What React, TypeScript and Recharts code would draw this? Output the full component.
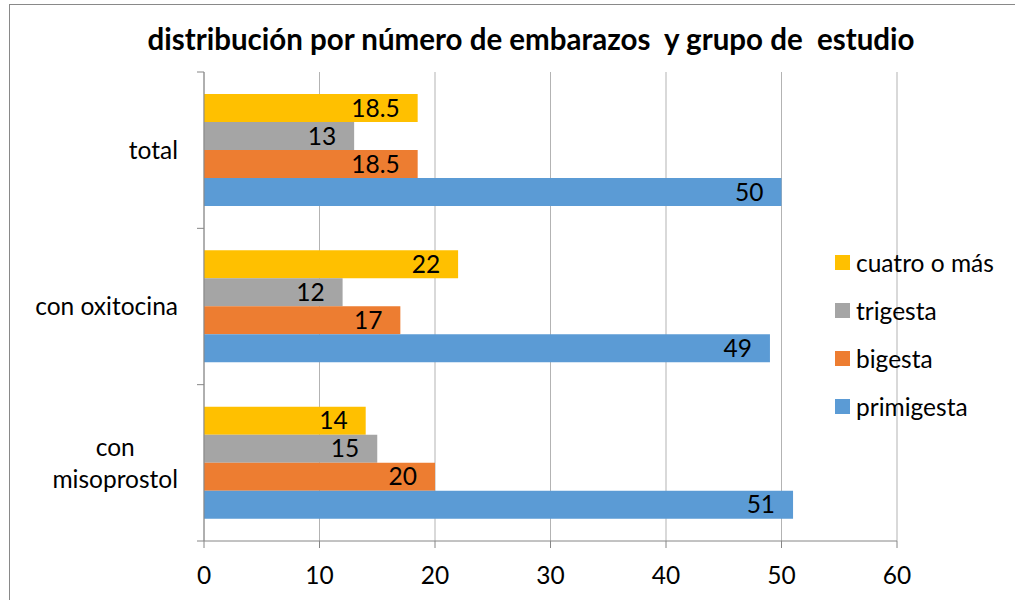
import React from 'react';
import { BarChart, Bar, XAxis, YAxis, CartesianGrid, Legend, LabelList } from 'recharts';

const categories = ['total', 'con oxitocina', 'con misoprostol'];
const primigesta = [50, 49, 51];
const bigesta = [18.5, 17, 20];
const trigesta = [13, 12, 15];
const cuatroOMas = [18.5, 22, 14];
const xTicks = [0, 10, 20, 30, 40, 50, 60];

const series = [
  { key: 'cuatro', name: 'cuatro o más', color: '#FFC000', values: cuatroOMas },
  { key: 'trigesta', name: 'trigesta', color: '#A5A5A5', values: trigesta },
  { key: 'bigesta', name: 'bigesta', color: '#ED7D31', values: bigesta },
  { key: 'primigesta', name: 'primigesta', color: '#5B9BD5', values: primigesta },
];

const data = categories.map((name, i) => {
  const row: any = { name };
  series.forEach((s) => (row[s.key] = s.values[i]));
  return row;
});

const W = 1015;
const H = 600;
const MARGIN = { top: 72, right: 118, bottom: 0, left: 0 };
const Y_AXIS_W = 204;
const X_AXIS_H = 59;
const PLOT_H = H - MARGIN.top - MARGIN.bottom - X_AXIS_H;
const FONT = 'Lato, "Open Sans", sans-serif';
const FS = 24.5;
const AXIS = '#868686';

let ctx: CanvasRenderingContext2D | null = null;
const measure = (t: string) => {
  if (!ctx) ctx = document.createElement('canvas').getContext('2d');
  if (!ctx) return t.length * FS * 0.5;
  ctx.font = `${FS}px Lato`;
  return ctx.measureText(t).width;
};

// parte la etiqueta en dos líneas si es muy larga (como hace Excel)
const wrap = (t: string) => {
  if (measure(t) < 155) return [t];
  const i = t.indexOf(' ');
  return [t.slice(0, i), t.slice(i + 1)];
};

const CategoryTick = (props: any) => {
  const { x, y, payload, index } = props;
  const axisX = x + 26;
  const band = PLOT_H / categories.length;
  const lines = wrap(payload.value);
  const wMax = Math.max(...lines.map(measure));
  const cx = lines.length > 1 ? x - wMax / 2 : x;
  return (
    <g>
      <line x1={axisX - 7} x2={axisX} y1={y - band / 2} y2={y - band / 2} stroke={AXIS} />
      {index === categories.length - 1 && (
        <line x1={axisX - 7} x2={axisX} y1={y + band / 2} y2={y + band / 2} stroke={AXIS} />
      )}
      {lines.map((l, i) => (
        <text
          key={i}
          x={cx}
          y={y + (i - (lines.length - 1) / 2) * 32}
          dy="0.36em"
          textAnchor={lines.length > 1 ? 'middle' : 'end'}
          fontSize={FS}
          fontFamily={FONT}
          fill="#000"
        >
          {l}
        </text>
      ))}
    </g>
  );
};

const renderLegend = () => (
  <div style={{ fontFamily: FONT, fontSize: FS, color: '#000' }}>
    {series.map((s) => (
      <div key={s.key} style={{ height: 48, display: 'flex', alignItems: 'center' }}>
        <span style={{ width: 15, height: 15, background: s.color, marginRight: 6, display: 'inline-block' }} />
        <span>{s.name}</span>
      </div>
    ))}
  </div>
);

export default function App() {
  return (
    <div style={{ position: 'absolute', left: 0, top: 0, width: W, height: H, overflow: 'hidden', background: '#fff' }}>
      <div
        style={{
          position: 'absolute',
          left: 9,
          top: 4,
          width: W + 50,
          height: H + 50,
          border: '1px solid #898989',
        }}
      />
      <svg style={{ position: 'absolute', left: 0, top: 0 }} width={W} height={70}>
        <text
          x={531}
          y={50}
          textAnchor="middle"
          fontFamily={FONT}
          fontWeight="bold"
          fontSize={29.5}
          fill="#000"
          style={{ whiteSpace: 'pre' }}
        >
          {'distribución por número de embarazos  y grupo de  estudio'}
        </text>
      </svg>
      <div style={{ position: 'absolute', left: 0, top: 0 }}>
        <BarChart width={W} height={H} data={data} layout="vertical" margin={MARGIN} barGap={0}>
          <CartesianGrid horizontal={false} stroke="#B3B3B3" />
          <XAxis
            type="number"
            domain={[0, 60]}
            ticks={xTicks}
            height={X_AXIS_H}
            stroke={AXIS}
            tickSize={7}
            tickMargin={19}
            tick={{ fill: '#000', fontSize: FS, fontFamily: FONT }}
            interval={0}
          />
          <YAxis
            type="category"
            dataKey="name"
            width={Y_AXIS_W}
            stroke={AXIS}
            tickLine={false}
            tickSize={7}
            tickMargin={19}
            tick={<CategoryTick />}
            interval={0}
          />
          <Legend
            layout="vertical"
            align="center"
            verticalAlign="middle"
            wrapperStyle={{ left: 835, top: 238, width: 175 }}
            content={renderLegend}
          />
          {series.map((s) => (
            <Bar key={s.key} dataKey={s.key} name={s.name} fill={s.color} barSize={28} isAnimationActive={false}>
              <LabelList dataKey={s.key} position="insideRight" offset={18} fill="#000" fontSize={FS} fontFamily={FONT} />
            </Bar>
          ))}
        </BarChart>
      </div>
    </div>
  );
}
